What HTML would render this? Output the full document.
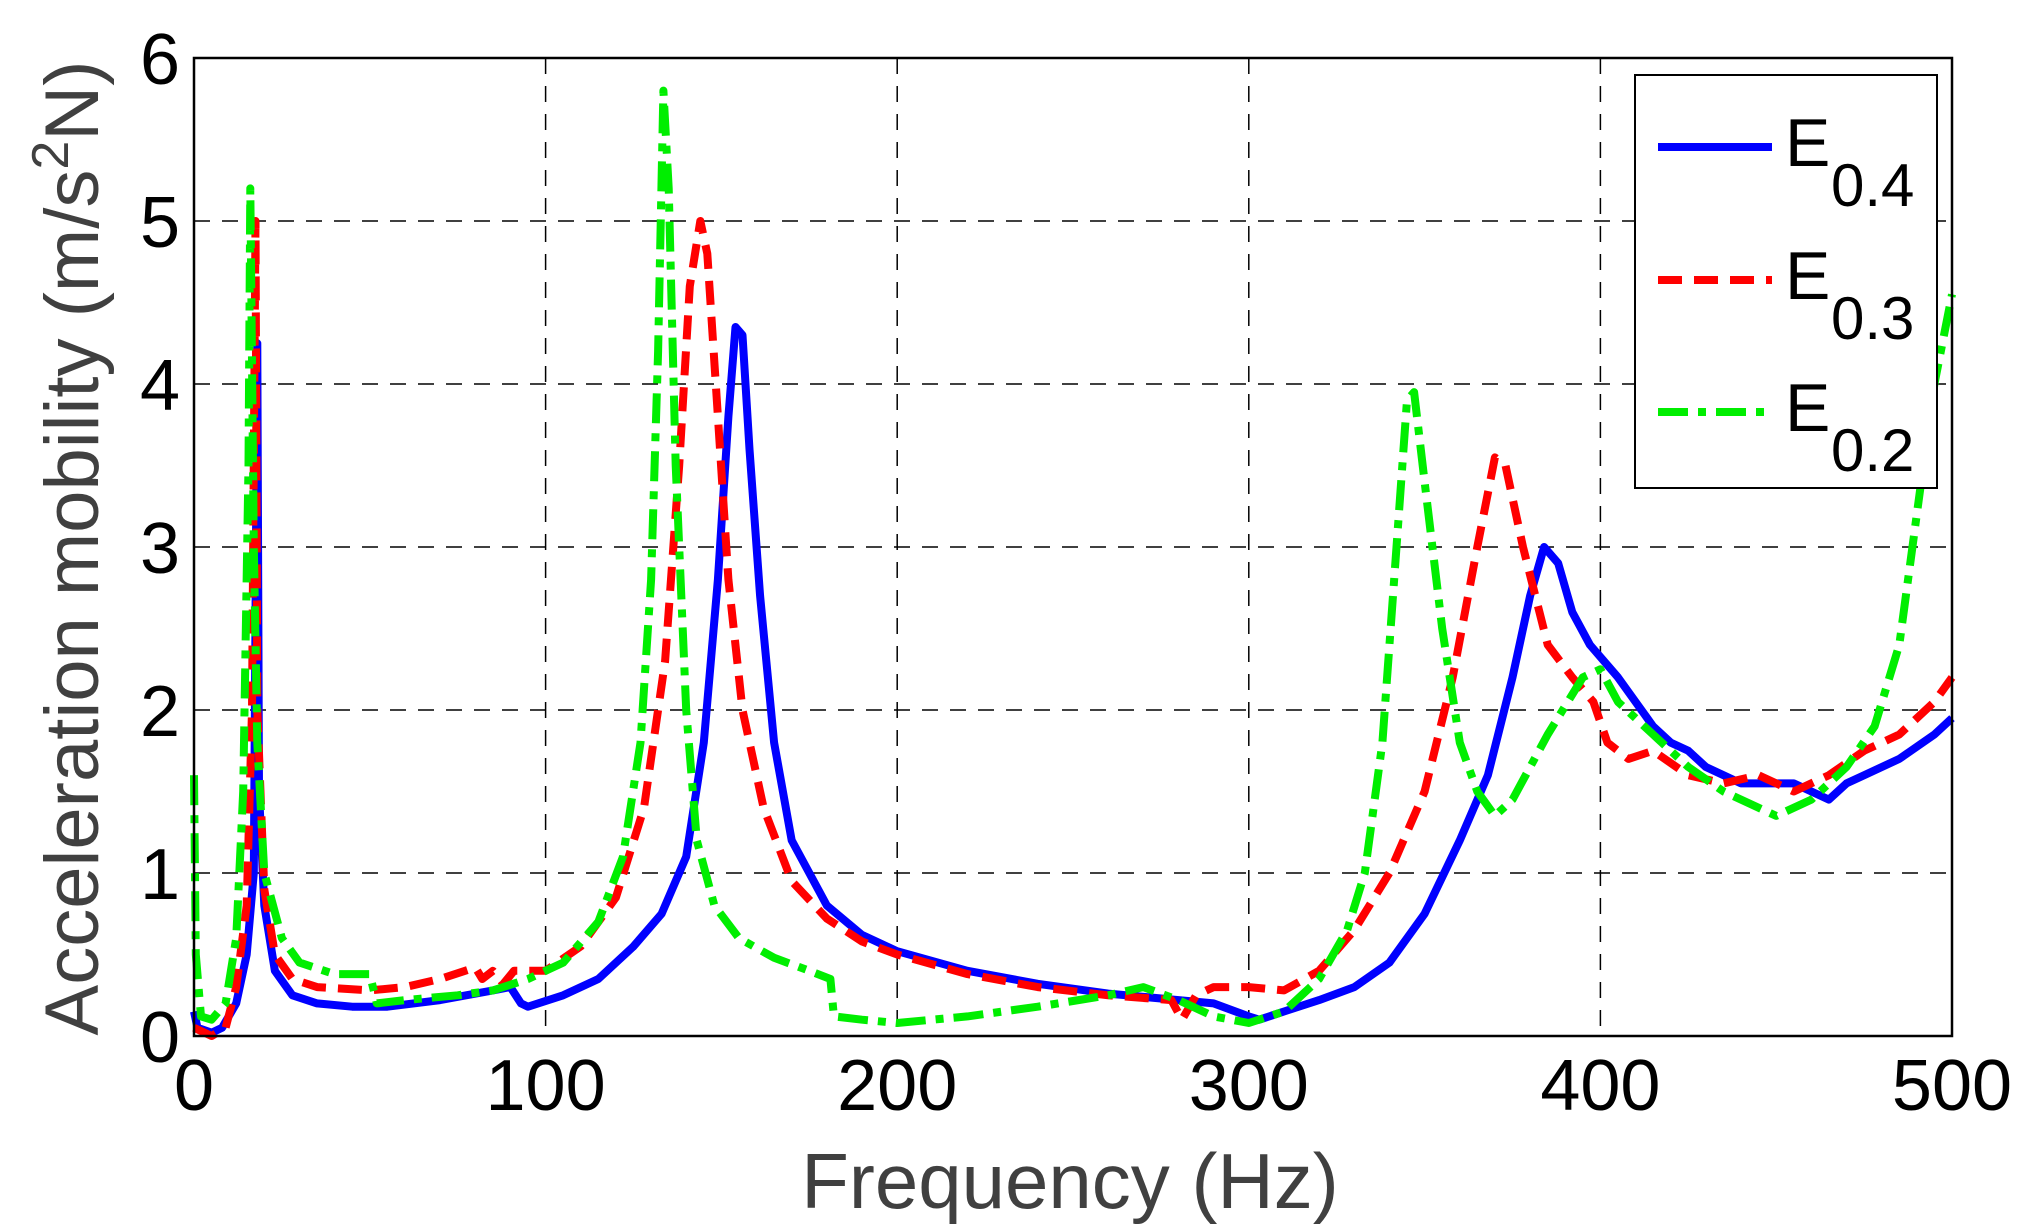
<!DOCTYPE html>
<html><head><meta charset="utf-8"><style>
html,body{margin:0;padding:0;background:#fff;}
svg{display:block;}
text{font-family:"Liberation Sans",Arial,sans-serif;}
</style></head><body>
<svg id="s" width="2030" height="1230" viewBox="0 0 2030 1230" xmlns="http://www.w3.org/2000/svg">
<rect width="2030" height="1230" fill="#fff"/>
<g id="grid" stroke="#000" stroke-width="1.5" stroke-dasharray="16,12" fill="none"></g>
<g id="series" fill="none" stroke-linejoin="round"></g>
<rect x="194" y="58" width="1758" height="978" fill="none" stroke="#000" stroke-width="2.5"/>
<g id="ticks" font-size="72" fill="#000"></g>
<text x="1070" y="1208" font-size="78" fill="#404040" text-anchor="middle">Frequency (Hz)</text>
<text transform="translate(98,548) rotate(-90)" font-size="76" fill="#404040" text-anchor="middle">Acceleration mobility (m/s<tspan font-size="52" dy="-30">2</tspan><tspan dy="30">N)</tspan></text>
<rect x="1635" y="75" width="302" height="413" fill="#fff" stroke="#000" stroke-width="2"/>
<line x1="1658" y1="147" x2="1772" y2="147" stroke="#0000ff" stroke-width="8"/>
<line x1="1658" y1="280" x2="1772" y2="280" stroke="#ff0000" stroke-width="8" stroke-dasharray="24,12"/>
<line x1="1658" y1="412" x2="1772" y2="412" stroke="#00ee00" stroke-width="8" stroke-dasharray="30,10,8,10"/>
<g font-size="68" fill="#000">
<text x="1785" y="166">E</text><text x="1831" y="206" font-size="60">0.4</text>
<text x="1785" y="299">E</text><text x="1831" y="339" font-size="60">0.3</text>
<text x="1785" y="431">E</text><text x="1831" y="471" font-size="60">0.2</text>
</g>
</svg>
<script>
var X0=194,X1=1952,Y0=1036,Y1=58;
function px(h){return X0+(X1-X0)*h/500;}
function py(v){return Y0-(Y0-Y1)*v/6;}
var ns="http://www.w3.org/2000/svg";
function el(p,t,a){var e=document.createElementNS(ns,t);for(var k in a)e.setAttribute(k,a[k]);p.appendChild(e);return e;}
var g=document.getElementById('grid'),tk=document.getElementById('ticks');
for(var i=1;i<5;i++){var x=px(i*100);el(g,'line',{x1:x,y1:Y1,x2:x,y2:Y0});}
for(var j=1;j<6;j++){var y=py(j);el(g,'line',{x1:X0,y1:y,x2:X1,y2:y});}
for(var i=0;i<=5;i++){var t=el(tk,'text',{x:px(i*100),y:1110,'text-anchor':'middle'});t.textContent=String(i*100);}
for(var j=0;j<=6;j++){var t=el(tk,'text',{x:180,y:py(j)+26,'text-anchor':'end'});t.textContent=String(j);}
var blue=[[0,0.15],[1,0.05],[5,0.02],[8,0.05],[12,0.2],[15,0.5],[17,1.0],[18,4.25],[18.5,1.5],[20,0.8],[23,0.4],[28,0.25],[35,0.2],[45,0.18],[55,0.18],[70,0.22],[85,0.28],[90,0.3],[93,0.2],[95,0.18],[105,0.25],[115,0.35],[125,0.55],[133,0.75],[140,1.1],[145,1.8],[149,2.8],[152,3.8],[154,4.35],[156,4.3],[158,3.6],[161,2.7],[165,1.8],[170,1.2],[180,0.8],[190,0.62],[200,0.52],[220,0.4],[240,0.32],[260,0.26],[280,0.22],[290,0.2],[300,0.12],[303,0.1],[310,0.15],[320,0.22],[330,0.3],[340,0.45],[350,0.75],[360,1.2],[368,1.6],[375,2.2],[380,2.7],[384,3.0],[388,2.9],[392,2.6],[397,2.4],[405,2.2],[410,2.05],[415,1.9],[420,1.8],[425,1.75],[430,1.65],[440,1.55],[450,1.55],[455,1.55],[460,1.5],[465,1.45],[470,1.55],[475,1.6],[485,1.7],[495,1.85],[500,1.95]];
var red=[[0,0.05],[5,0.0],[9,0.05],[12,0.3],[15,0.8],[16.5,2],[17.5,5.0],[18,2],[20,0.9],[23,0.5],[28,0.35],[35,0.3],[50,0.28],[60,0.3],[70,0.35],[80,0.42],[82,0.35],[85,0.4],[88,0.32],[91,0.4],[100,0.4],[110,0.55],[120,0.85],[128,1.4],[134,2.3],[138,3.5],[141,4.6],[144,5.0],[146,4.8],[149,3.8],[152,2.8],[156,2.0],[162,1.4],[170,0.95],[180,0.72],[190,0.58],[200,0.5],[220,0.38],[240,0.3],[260,0.25],[278,0.22],[281,0.1],[285,0.25],[290,0.3],[300,0.3],[310,0.28],[320,0.4],[330,0.65],[340,1.0],[350,1.5],[358,2.2],[365,3.0],[370,3.55],[373,3.5],[378,3.0],[385,2.4],[392,2.2],[398,2.05],[402,1.8],[408,1.7],[415,1.75],[425,1.6],[435,1.55],[445,1.6],[455,1.5],[465,1.6],[475,1.75],[485,1.85],[495,2.05],[500,2.2]];
var green=[[0,1.6],[0.5,0.5],[2,0.12],[5,0.1],[9,0.2],[12,0.6],[14,1.5],[15.5,3.5],[16,5.2],[17,3],[18,1.8],[20,1.0],[25,0.6],[30,0.45],[40,0.38],[50,0.38],[52,0.2],[60,0.22],[75,0.25],[85,0.28],[95,0.35],[105,0.45],[115,0.7],[122,1.1],[127,1.8],[130,2.8],[132,4.2],[133.5,5.8],[135,5.2],[137,3.5],[140,2.0],[143,1.2],[148,0.8],[155,0.6],[165,0.48],[175,0.4],[181,0.35],[182,0.12],[190,0.1],[200,0.08],[220,0.12],[240,0.18],[260,0.25],[270,0.3],[280,0.22],[290,0.12],[300,0.08],[310,0.15],[320,0.35],[328,0.65],[333,1.0],[338,1.8],[342,3.0],[345,3.9],[347,3.95],[350,3.4],[355,2.5],[360,1.8],[365,1.5],[370,1.35],[375,1.45],[385,1.85],[395,2.2],[400,2.25],[405,2.05],[415,1.85],[425,1.65],[435,1.5],[445,1.4],[450,1.35],[460,1.45],[470,1.65],[478,1.9],[485,2.4],[490,3.2],[495,4.0],[500,4.55]];
var s=document.getElementById('series');
function line(d,c,da){var p=d.map(function(q,i){return (i?'L':'M')+px(q[0]).toFixed(1)+','+py(q[1]).toFixed(1);}).join('');var a={d:p,stroke:c,'stroke-width':8};if(da)a['stroke-dasharray']=da;el(s,'path',a);}
line(blue,'#0000ff');
line(red,'#ff0000','24,12');
line(green,'#00ee00','30,10,8,10');
</script>
</body></html>
